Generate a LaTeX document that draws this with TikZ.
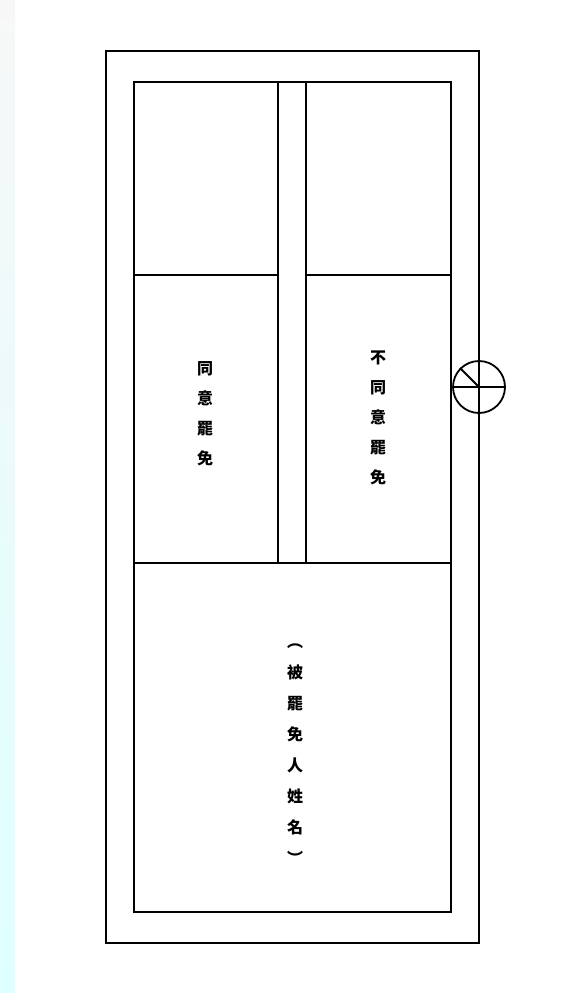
\documentclass[tikz,border=0pt]{standalone}
\usepackage{fontspec}
\newfontfamily\cjk{Noto Sans CJK TC}
\begin{document}
\begin{tikzpicture}[x=1pt,y=-1pt,line width=1.5pt,
    vtext/.style={align=center,inner sep=0pt,font=\cjk\bfseries\fontsize{16}{30}\selectfont}]
    \useasboundingbox (0,0) rectangle (575,993);
    \shade[top color=gray!6,bottom color=cyan!13] (0,0) rectangle (15,993);
    \def\xa{106}
    \def\xb{134}
    \def\xc{278}
    \def\xd{306}
    \def\xe{451}
    \def\xf{479}
    \coordinate (O0) at (\xa, 51);
    \coordinate (O1) at (\xf, 943);
    \coordinate (I0) at (\xb, 82);
    \coordinate (I1) at (\xe, 912);
    \draw (O0) rectangle (O1);
    \draw (I0) rectangle (I1);
    \draw (\xc, 82) -- (\xc, 563);
    \draw (\xd, 82) -- (\xd, 563);
    \draw (\xb, 275) -- (\xc, 275);
    \draw (\xd, 275) -- (\xe, 275);
    \draw (\xb, 563) -- (\xe, 563);
    \node [vtext] (yes) at (205, 414) {同\\意\\罷\\免};
    \node [vtext] (no) at (378, 418) {不\\同\\意\\罷\\免};
    \node [vtext,font=\cjk\bfseries\fontsize{16}{31}\selectfont] (name) at (295, 754) {︵\\被\\罷\\免\\人\\姓\\名\\︶};
    \node [circle,draw,line width=1.8pt,minimum size=52pt,inner sep=0pt] (seal) at (\xf, 387) {};
    \draw [line width=1.8pt] (seal.west) -- (seal.east);
    \draw [line width=1.8pt] (seal.center) -- (seal.135);
\end{tikzpicture}
\end{document}
